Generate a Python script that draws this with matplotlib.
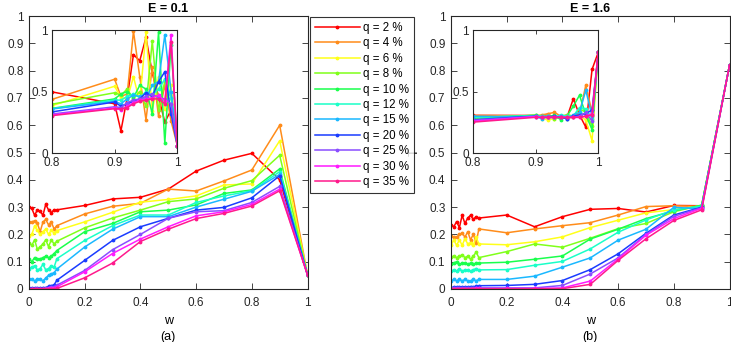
import matplotlib.pyplot as plt

plt.rcParams['font.family'] = ['Liberation Sans', 'DejaVu Sans']

# x grids: dense start, coarse middle; the insets zoom on 0.8..1
w_main = [0, 0.01, 0.02, 0.03, 0.04, 0.05, 0.06, 0.07, 0.08, 0.09, 0.1,
          0.2, 0.3, 0.4, 0.5, 0.6, 0.7, 0.8, 0.9, 1.0]
w_zoom = [0.8, 0.9, 0.91, 0.92, 0.93, 0.94, 0.95, 0.96, 0.97, 0.98, 0.99, 1.0]

q_labels = ['q = 2 %', 'q = 4 %', 'q = 6 %', 'q = 8 %', 'q = 10 %', 'q = 12 %',
            'q = 15 %', 'q = 20 %', 'q = 25 %', 'q = 30 %', 'q = 35 %']
colors = ['#ff0000', '#ff8c1a', '#ffff1a', '#80ff1a', '#1aff4d', '#1affc8',
          '#1ab8ff', '#1a3cff', '#8a4dff', '#ff1aff', '#ff1a8c']

# E = 0.1, main panel
t_e01 = [
    [0.30, 0.295, 0.27, 0.29, 0.285, 0.27, 0.31, 0.29, 0.28, 0.29, 0.29, 0.306, 0.33, 0.336, 0.366, 0.432, 0.472, 0.497, 0.40, 0.051],
    [0.245, 0.245, 0.25, 0.24, 0.21, 0.245, 0.255, 0.235, 0.245, 0.22, 0.232, 0.275, 0.303, 0.314, 0.366, 0.359, 0.396, 0.436, 0.60, 0.051],
    [0.195, 0.20, 0.23, 0.215, 0.20, 0.21, 0.22, 0.20, 0.215, 0.205, 0.214, 0.246, 0.281, 0.318, 0.328, 0.341, 0.381, 0.385, 0.543, 0.051],
    [0.17, 0.16, 0.18, 0.145, 0.155, 0.165, 0.18, 0.155, 0.18, 0.165, 0.175, 0.224, 0.26, 0.289, 0.32, 0.33, 0.369, 0.397, 0.49, 0.051],
    [0.11, 0.10, 0.115, 0.11, 0.11, 0.115, 0.12, 0.115, 0.12, 0.13, 0.141, 0.21, 0.24, 0.283, 0.289, 0.308, 0.35, 0.363, 0.44, 0.051],
    [0.075, 0.08, 0.085, 0.07, 0.075, 0.09, 0.07, 0.075, 0.085, 0.08, 0.111, 0.178, 0.232, 0.271, 0.271, 0.317, 0.341, 0.36, 0.43, 0.051],
    [0.035, 0.035, 0.03, 0.035, 0.035, 0.03, 0.04, 0.05, 0.055, 0.06, 0.073, 0.154, 0.219, 0.265, 0.265, 0.30, 0.329, 0.358, 0.42, 0.051],
    [0.003, 0.003, 0.003, 0.003, 0.003, 0.005, 0.005, 0.01, 0.012, 0.015, 0.032, 0.105, 0.178, 0.228, 0.259, 0.289, 0.299, 0.334, 0.415, 0.051],
    [0, 0, 0, 0, 0, 0.001, 0.002, 0.004, 0.006, 0.008, 0.014, 0.068, 0.144, 0.20, 0.259, 0.283, 0.287, 0.317, 0.376, 0.051],
    [0, 0, 0, 0, 0, 0, 0.001, 0.002, 0.003, 0.004, 0.008, 0.063, 0.13, 0.183, 0.228, 0.268, 0.283, 0.31, 0.366, 0.051],
    [0, 0, 0, 0, 0, 0, 0, 0, 0.001, 0.001, 0.002, 0.041, 0.095, 0.174, 0.219, 0.258, 0.277, 0.304, 0.36, 0.051],
]

# E = 0.1, inset
t_e01_zoom = [
    [0.497, 0.40, 0.18, 0.45, 0.80, 0.75, 0.94, 0.65, 0.46, 0.25, 0.35, 0.06],
    [0.436, 0.60, 0.46, 0.48, 0.99, 0.62, 0.27, 0.70, 0.30, 0.55, 0.26, 0.06],
    [0.385, 0.543, 0.45, 0.44, 0.62, 0.42, 0.98, 0.34, 0.62, 0.36, 0.55, 0.06],
    [0.397, 0.49, 0.47, 0.52, 0.44, 0.50, 0.38, 0.91, 0.35, 0.58, 0.45, 0.06],
    [0.363, 0.44, 0.48, 0.50, 0.45, 0.55, 0.52, 0.32, 0.98, 0.08, 0.88, 0.06],
    [0.36, 0.43, 0.43, 0.46, 0.48, 0.45, 0.50, 0.47, 0.52, 0.60, 0.45, 0.06],
    [0.358, 0.42, 0.40, 0.44, 0.47, 0.46, 0.44, 0.55, 0.58, 0.96, 0.50, 0.06],
    [0.334, 0.415, 0.38, 0.40, 0.42, 0.44, 0.49, 0.46, 0.58, 0.66, 0.32, 0.06],
    [0.317, 0.376, 0.37, 0.41, 0.43, 0.44, 0.46, 0.48, 0.45, 0.44, 0.40, 0.06],
    [0.31, 0.366, 0.35, 0.38, 0.41, 0.43, 0.44, 0.45, 0.47, 0.42, 0.96, 0.06],
    [0.304, 0.36, 0.36, 0.37, 0.40, 0.42, 0.43, 0.44, 0.44, 0.40, 0.90, 0.06],
]

# E = 1.6, main panel
t_e16 = [
    [0.234, 0.228, 0.247, 0.225, 0.27, 0.24, 0.26, 0.27, 0.255, 0.265, 0.26, 0.271, 0.228, 0.265, 0.292, 0.295, 0.282, 0.306, 0.305, 0.82],
    [0.195, 0.19, 0.19, 0.20, 0.205, 0.19, 0.21, 0.18, 0.20, 0.17, 0.22, 0.206, 0.22, 0.232, 0.243, 0.271, 0.302, 0.305, 0.303, 0.82],
    [0.16, 0.18, 0.16, 0.18, 0.16, 0.185, 0.165, 0.17, 0.16, 0.19, 0.165, 0.162, 0.173, 0.191, 0.225, 0.252, 0.279, 0.291, 0.305, 0.82],
    [0.118, 0.12, 0.115, 0.12, 0.125, 0.115, 0.12, 0.11, 0.12, 0.135, 0.115, 0.137, 0.165, 0.153, 0.186, 0.221, 0.24, 0.283, 0.307, 0.82],
    [0.09, 0.095, 0.10, 0.09, 0.095, 0.095, 0.09, 0.095, 0.09, 0.095, 0.095, 0.098, 0.109, 0.121, 0.183, 0.219, 0.258, 0.286, 0.307, 0.82],
    [0.065, 0.07, 0.065, 0.075, 0.065, 0.07, 0.07, 0.065, 0.07, 0.075, 0.07, 0.071, 0.087, 0.101, 0.147, 0.208, 0.253, 0.29, 0.303, 0.82],
    [0.03, 0.035, 0.03, 0.035, 0.03, 0.035, 0.03, 0.03, 0.035, 0.03, 0.035, 0.035, 0.047, 0.08, 0.114, 0.179, 0.219, 0.299, 0.294, 0.82],
    [0.005, 0.007, 0.006, 0.008, 0.006, 0.008, 0.007, 0.009, 0.008, 0.01, 0.012, 0.013, 0.017, 0.031, 0.071, 0.129, 0.204, 0.271, 0.30, 0.82],
    [0.003, 0.003, 0.003, 0.003, 0.003, 0.003, 0.003, 0.004, 0.003, 0.004, 0.004, 0.004, 0.004, 0.013, 0.055, 0.114, 0.20, 0.266, 0.298, 0.82],
    [0.001, 0.001, 0.001, 0.001, 0.001, 0.001, 0.001, 0.001, 0.001, 0.002, 0.002, 0.002, 0.002, 0.004, 0.029, 0.11, 0.197, 0.258, 0.296, 0.82],
    [0, 0, 0, 0, 0, 0, 0, 0, 0, 0, 0.001, 0.001, 0.001, 0.001, 0.017, 0.105, 0.184, 0.251, 0.29, 0.82],
]

# E = 1.6, inset
t_e16_zoom = [
    [0.306, 0.305, 0.30, 0.31, 0.29, 0.30, 0.29, 0.44, 0.31, 0.21, 0.68, 0.82],
    [0.305, 0.303, 0.31, 0.32, 0.33, 0.30, 0.31, 0.30, 0.32, 0.55, 0.33, 0.82],
    [0.291, 0.305, 0.28, 0.27, 0.28, 0.29, 0.28, 0.29, 0.30, 0.27, 0.10, 0.82],
    [0.283, 0.307, 0.29, 0.30, 0.28, 0.29, 0.31, 0.30, 0.36, 0.33, 0.22, 0.82],
    [0.286, 0.307, 0.30, 0.29, 0.31, 0.27, 0.30, 0.38, 0.47, 0.31, 0.19, 0.82],
    [0.29, 0.303, 0.30, 0.30, 0.29, 0.31, 0.30, 0.30, 0.37, 0.36, 0.28, 0.82],
    [0.299, 0.294, 0.28, 0.30, 0.29, 0.30, 0.28, 0.31, 0.33, 0.51, 0.30, 0.82],
    [0.271, 0.30, 0.29, 0.29, 0.30, 0.29, 0.28, 0.30, 0.31, 0.32, 0.35, 0.82],
    [0.266, 0.298, 0.29, 0.29, 0.29, 0.29, 0.29, 0.29, 0.30, 0.33, 0.26, 0.82],
    [0.258, 0.296, 0.29, 0.29, 0.29, 0.29, 0.29, 0.29, 0.29, 0.30, 0.32, 0.82],
    [0.251, 0.29, 0.29, 0.29, 0.29, 0.29, 0.29, 0.29, 0.29, 0.30, 0.31, 0.82],
]

edge = '#262626'


def style(ax, ticklen):
    ax.tick_params(direction='in', top=True, right=True, length=ticklen,
                   width=0.6, colors=edge, labelsize=8.5, labelcolor=edge)
    for s in ax.spines.values():
        s.set_color(edge)
        s.set_linewidth(0.8)


def draw(ax, x, series):
    lines = []
    for y, c, lab in zip(series, colors, q_labels):
        ln, = ax.plot(x, y, color=c, lw=1.1, marker='.', ms=3.5, label=lab)
        lines.append(ln)
    return lines


fig = plt.figure(figsize=(7.31, 3.42), dpi=100)

panels = [
    (0.0397, t_e01, t_e01_zoom, 'E = 0.1', '(a)', 0.0711),
    (0.617, t_e16, t_e16_zoom, 'E = 1.6', '(b)', 0.647),
]

handles = None
for x0, main, zoom, title, tag, ix0 in panels:
    ax = fig.add_axes([x0, 0.155, 0.381, 0.798])
    lines = draw(ax, w_main, main)
    if handles is None:
        handles = lines
    ax.set_xlim(0, 1)
    ax.set_ylim(0, 1)
    ax.set_xticks([0, 0.2, 0.4, 0.6, 0.8, 1])
    ax.set_xticklabels(['0', '0.2', '0.4', '0.6', '0.8', '1'])
    ax.set_yticks([i / 10 for i in range(11)])
    ax.set_yticklabels(['0'] + ['%.1f' % (i / 10) for i in range(1, 10)] + ['1'])
    style(ax, 4)
    ax.tick_params(axis='x', pad=6)
    ax.tick_params(axis='y', pad=4)
    ax.set_title(title, fontsize=9, fontweight='bold', pad=3)
    ax.set_xlabel('w\n' + tag, fontsize=9, linespacing=1.5, labelpad=4)
    ax.set_ylabel('T', fontsize=9, labelpad=6)

    axi = fig.add_axes([ix0, 0.5526, 0.1715, 0.3596])
    draw(axi, w_zoom, zoom)
    axi.set_xlim(0.8, 1)
    axi.set_ylim(0, 1)
    axi.set_xticks([0.8, 0.9, 1])
    axi.set_xticklabels(['0.8', '0.9', '1'])
    axi.set_yticks([0, 0.5, 1])
    axi.set_yticklabels(['0', '0.5', '1'])
    style(axi, 3)
    axi.tick_params(axis='both', pad=3)

leg = fig.legend(handles=handles, loc='upper left', bbox_to_anchor=(0.424, 0.950),
                 fontsize=8.3, frameon=True, fancybox=False, edgecolor='black',
                 handlelength=3.9, handletextpad=0.3, labelspacing=0.3,
                 borderpad=0.4, borderaxespad=0)
leg.get_frame().set_linewidth(0.8)

fig.savefig('out.png', dpi=100)
